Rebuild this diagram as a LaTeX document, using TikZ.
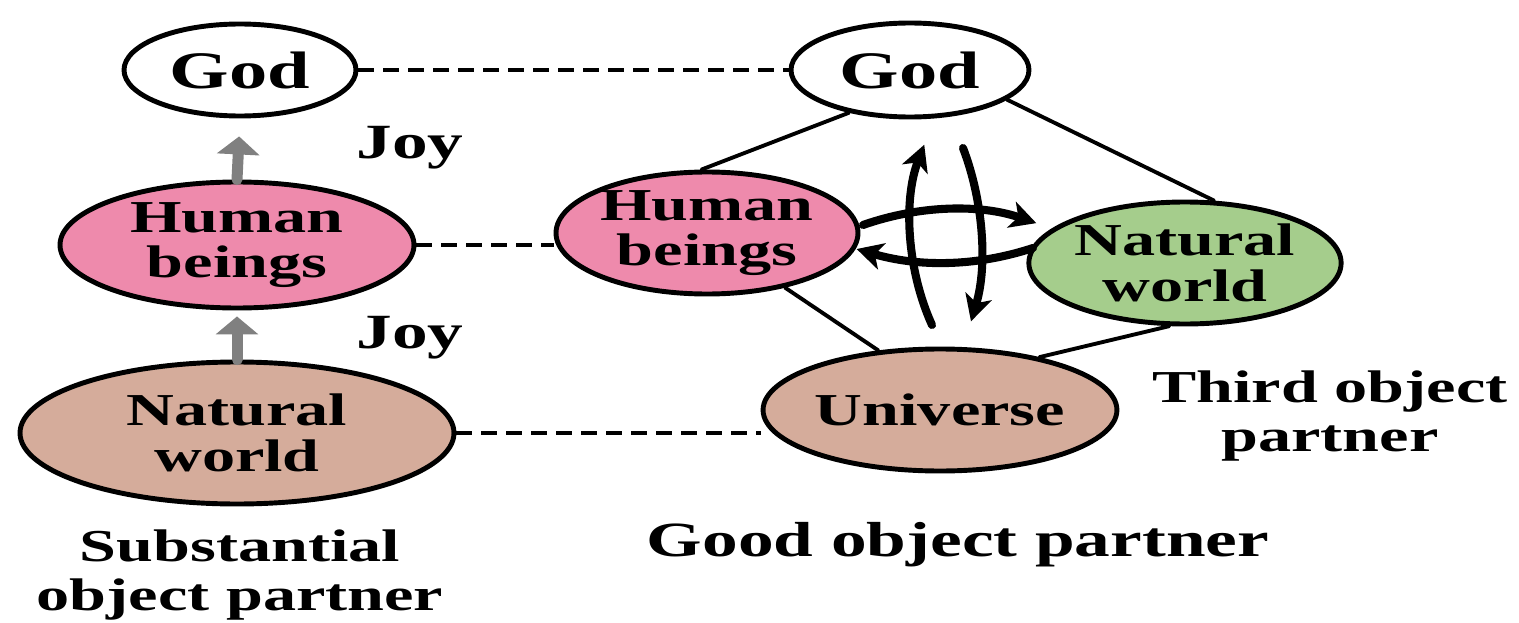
\documentclass[tikz,border=0pt]{standalone}
\usepackage{fontspec}
\setmainfont[FakeStretch=1.45]{Liberation Serif}
\usetikzlibrary{shapes.geometric,arrows.meta}
\definecolor{humanpink}{RGB}{238,138,172}
\definecolor{earthtan}{RGB}{213,172,155}
\definecolor{leafgreen}{RGB}{165,205,140}
\begin{document}
\begin{tikzpicture}[x=0.1mm,y=-0.1mm,line cap=round,line join=round,>=Stealth,
  partner/.style={ellipse,draw,line width=1.4pt,inner sep=0pt,align=center,font=\fontsize{13}{13}\selectfont\bfseries},
  caption/.style={align=center,font=\fontsize{13}{14}\selectfont\bfseries},
  joyarrow/.style={-{Triangle[width=4.2mm,length=1.8mm]},line width=1.1mm,color=gray},
  link/.style={line width=1.1pt},
  mirror/.style={line width=1.1pt,dash pattern=on 1.6mm off 0.9mm,line cap=butt},
  swirl/.style={-{Stealth[length=2.6mm,width=2.7mm,inset=0.7mm]},line width=2.3pt,shorten >=-1pt}]
  \useasboundingbox (0,0) rectangle (1519,623);
  % substantial object partner
  \node[partner,fill=white,minimum width=23.2mm,minimum height=9.2mm,font=\fontsize{15}{15}\selectfont\bfseries] (lgod) at (240,70) {God};
  \node[partner,fill=humanpink,minimum width=35.4mm,minimum height=12.6mm] (lhum) at (237,245) {Human\\beings};
  \node[partner,fill=earthtan,minimum width=43.4mm,minimum height=14.2mm] (lnat) at (237,433) {Natural\\world};
  \draw[joyarrow,shorten >=1.8mm] (lhum.north) -- (lgod.south);
  \draw[joyarrow,shorten >=0.6mm] (lnat.north) -- (lhum.south);
  \node[caption,font=\fontsize{14}{14}\selectfont\bfseries] (joy1) at (410,148) {Joy};
  \node[caption,font=\fontsize{14}{14}\selectfont\bfseries] (joy2) at (410,338) {Joy};
  \node[caption] (subst) at (240,575) {Substantial\\object partner};
  % good object partner
  \node[partner,fill=white,minimum width=23.8mm,minimum height=9.4mm,font=\fontsize{15}{15}\selectfont\bfseries] (rgod) at (910,70) {God};
  \node[partner,fill=humanpink,minimum width=28mm,minimum height=12.2mm] (rhum) at (707,233) {Human\\beings};
  \node[partner,fill=leafgreen,minimum width=28.8mm,minimum height=12.2mm] (rnat) at (1185,263) {Natural\\world};
  \node[partner,fill=earthtan,minimum width=29.8mm,minimum height=12.2mm] (univ) at (940,410) {Universe};
  \node[caption] (third) at (1330,416) {Third object\\partner};
  \node[caption,font=\fontsize{14}{14}\selectfont\bfseries] (good) at (958,545) {Good object partner};
  \draw[link] (rgod.215) -- (rhum.95);
  \draw[link] (rgod.343) -- (rnat.65);
  \draw[link] (rhum.325) -- (univ.136);
  \draw[link] (rnat.256) -- (univ.28);
  \draw[mirror] (lgod.east) -- (rgod.west);
  \draw[mirror] (lhum.east) -- (lhum.east -| rhum.west);
  \draw[mirror] (lnat.east) -- (lnat.east -| univ.west);
  % circulation between them
  \draw[swirl] (932,325) .. controls (907,270) and (903,200) .. (923,148);
  \draw[swirl] (963,148) .. controls (983,200) and (988,265) .. (972,318);
  \draw[swirl] (863,225) .. controls (920,205) and (980,204) .. (1033,222);
  \draw[swirl] (1033,248) .. controls (975,267) and (918,267) .. (860,250);
\end{tikzpicture}
\end{document}
